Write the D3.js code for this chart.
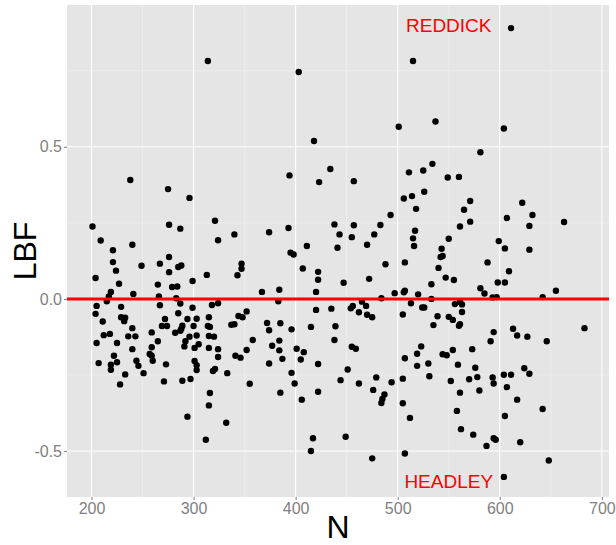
<!DOCTYPE html>
<html>
<head>
<meta charset="utf-8">
<script src="https://cdn.jsdelivr.net/npm/d3@7"></script>
<style>
body { margin: 0; background: #ffffff; }
text { font-family: "Liberation Sans", Arial, sans-serif; }
</style>
</head>
<body>
<svg></svg>
<script>
// sample size of each study
var nValues = [314,238,403,418,434,394,423,457,515,501,537,581,511,525,534,549,560,611,604,
  275,296,321,201,276,287,209,324,240,221,221,267,249,276,224,276,285,288,204,313,
  299,227,265,279,284,219,241,217,266,215,283,287,205,229,267,299,318,324,204,285,
  229,233,232,211,272,294,303,315,269,274,289,288,300,314,316,259,240,282,287,212,
  218,236,243,296,303,315,320,265,292,
  205,225,240,259,291,301,305,315,324,222,257,259,207,219,225,244,260,273,301,303,
  324,219,246,303,321,319,233,251,228,271,289,297,316,315,294,312,
  438,457,443,455,340,374,393,441,411,395,398,347,347,343,407,422,422,447,367,384,
  420,383,352,344,348,337,340,372,385,374,396,415,420,435,439,454,456,462,358,384,438,
  341,346,352,377,384,387,374,401,408,405,422,455,459,451,333,396,444,462,355,399,
  385,422,406,332,417,449,415,
  506,514,526,518,493,483,477,470,517,515,516,571,565,571,561,550,543,542,544,540,
  507,488,599,588,472,547,555,533,598,581,585,506,507,497,520,484,533,593,597,465,
  469,513,524,526,561,563,556,470,475,505,563,539,550,554,561,560,535,594,591,
  523,519,507,519,530,544,548,554,573,559,576,531,479,494,505,476,487,485,484,505,
  512,552,570,578,593,594,561,580,558,562,574,587,594,596,475,507,
  622,607,632,629,663,605,629,609,605,655,642,613,617,627,683,646,
  624,629,604,611,607,617,642,605,620,648,604];

// log Bayes factor for the same studies
var lbfValues = [0.782,0.391,0.746,0.519,0.427,0.406,0.384,0.387,0.782,0.566,0.583,0.482,0.416,0.422,0.444,0.399,0.401,0.890,0.560,
  0.361,0.332,0.257,0.238,0.244,0.231,0.192,0.193,0.178,0.160,0.121,0.116,0.109,0.138,0.093,0.088,0.105,0.110,0.069,0.079,
  0.059,0.050,0.047,0.039,0.041,0.023,0.016,0.008,0.008,-0.008,0.002,-0.015,-0.023,-0.026,-0.021,-0.029,-0.020,-0.014,-0.049,-0.047,
  -0.060,-0.062,-0.073,-0.074,-0.066,-0.066,-0.065,-0.060,-0.089,-0.089,-0.088,-0.098,-0.089,-0.089,-0.092,-0.110,-0.096,-0.111,-0.105,-0.119,
  -0.115,-0.123,-0.123,-0.124,-0.120,-0.122,-0.124,-0.139,-0.139,
  -0.145,-0.145,-0.165,-0.159,-0.156,-0.161,-0.149,-0.161,-0.165,-0.187,-0.181,-0.187,-0.211,-0.216,-0.208,-0.203,-0.203,-0.215,-0.204,-0.218,
  -0.191,-0.233,-0.220,-0.234,-0.230,-0.237,-0.248,-0.244,-0.281,-0.271,-0.269,-0.263,-0.309,-0.350,-0.387,-0.463,
  0.245,0.242,0.212,0.203,0.212,0.219,0.233,0.168,0.174,0.152,0.146,0.116,0.099,0.078,0.100,0.089,0.063,0.053,0.023,0.030,
  0.023,-0.008,-0.041,-0.056,-0.060,-0.085,-0.083,-0.079,-0.080,-0.103,-0.100,-0.092,-0.036,-0.032,-0.090,-0.031,-0.023,-0.044,-0.135,-0.137,-0.135,
  -0.187,-0.193,-0.168,-0.154,-0.169,-0.197,-0.212,-0.164,-0.175,-0.199,-0.214,-0.157,-0.164,-0.232,-0.244,-0.243,-0.267,-0.278,-0.279,-0.278,
  -0.308,-0.305,-0.331,-0.407,-0.458,-0.453,-0.500,
  0.330,0.338,0.352,0.296,0.276,0.243,0.212,0.178,0.224,0.199,0.174,0.322,0.293,0.254,0.238,0.198,0.165,0.138,0.141,0.102,
  0.120,0.114,0.190,0.120,0.066,0.070,0.062,0.048,0.054,0.035,0.018,0.022,0.027,0.019,0.015,0.002,0.000,0.005,0.006,-0.009,
  -0.023,-0.014,-0.028,-0.028,-0.010,-0.018,-0.017,-0.052,-0.060,-0.051,-0.043,-0.057,-0.059,-0.069,-0.083,-0.088,-0.086,-0.109,-0.139,
  -0.156,-0.180,-0.195,-0.220,-0.212,-0.182,-0.185,-0.168,-0.165,-0.216,-0.226,-0.254,-0.258,-0.274,-0.262,-0.299,-0.314,-0.329,-0.342,-0.343,
  -0.391,-0.270,-0.264,-0.257,-0.258,-0.278,-0.308,-0.301,-0.368,-0.428,-0.446,-0.483,-0.458,-0.463,-0.524,-0.508,
  0.316,0.266,0.276,0.240,0.253,0.166,0.162,0.091,0.054,0.027,0.006,-0.098,-0.120,-0.124,-0.096,-0.139,
  -0.228,-0.246,-0.249,-0.249,-0.290,-0.331,-0.362,-0.385,-0.471,-0.531,-0.585];

var xTicks = [200,300,400,500,600,700];
var xMinor = [250,350,450,550,650];
var yTicks = [-0.5,0,0.5];
var yTickLabels = ["-0.5","0.0","0.5"];
var yMinor = [-0.25,0.25,0.75];

// labelled studies
var labelNames = ["REDDICK","HEADLEY"];
var labelN = [550,550];
var labelLbf = [0.9,-0.6];

var screen = {width:616, height:545};
var margins = {top:5, bottom:48, left:67, right:7};
var width = screen.width - margins.left - margins.right;
var height = screen.height - margins.top - margins.bottom;

var svg = d3.select("svg")
            .attr("width",screen.width)
            .attr("height",screen.height);

var xScale = d3.scaleLinear()
               .domain([176,707])
               .range([0,width]);

var yScale = d3.scaleLinear()
               .domain([-0.651,0.966])
               .range([height,0]);

var plot = svg.append("g")
              .attr("transform","translate("+margins.left+","+margins.top+")");

plot.append("rect")
    .attr("width",width)
    .attr("height",height)
    .attr("fill","#e5e5e5");

// minor grid
plot.selectAll(".xminor").data(xMinor).enter().append("line")
    .attr("x1",function(d){return xScale(d);})
    .attr("x2",function(d){return xScale(d);})
    .attr("y1",0).attr("y2",height)
    .attr("stroke","#f2f2f2").attr("stroke-width",0.6);
plot.selectAll(".yminor").data(yMinor).enter().append("line")
    .attr("y1",function(d){return yScale(d);})
    .attr("y2",function(d){return yScale(d);})
    .attr("x1",0).attr("x2",width)
    .attr("stroke","#f2f2f2").attr("stroke-width",0.6);

// major grid
plot.selectAll(".xmajor").data(xTicks).enter().append("line")
    .attr("x1",function(d){return xScale(d);})
    .attr("x2",function(d){return xScale(d);})
    .attr("y1",0).attr("y2",height)
    .attr("stroke","#ffffff").attr("stroke-width",1.1);
plot.selectAll(".ymajor").data(yTicks).enter().append("line")
    .attr("y1",function(d){return yScale(d);})
    .attr("y2",function(d){return yScale(d);})
    .attr("x1",0).attr("x2",width)
    .attr("stroke","#ffffff").attr("stroke-width",1.1);

// points
var points = d3.zip(nValues,lbfValues);
plot.selectAll("circle")
    .data(points)
    .enter()
    .append("circle")
    .attr("cx",function(d){return xScale(d[0]);})
    .attr("cy",function(d){return yScale(d[1]);})
    .attr("r",3.2)
    .attr("fill","black");

// zero line
plot.append("line")
    .attr("x1",0).attr("x2",width)
    .attr("y1",yScale(0)).attr("y2",yScale(0))
    .attr("stroke","red").attr("stroke-width",3);

plot.selectAll(".lab")
    .data(labelNames)
    .enter()
    .append("text")
    .attr("x",function(d,i){return xScale(labelN[i]);})
    .attr("y",function(d,i){return yScale(labelLbf[i]);})
    .attr("dy","0.35em")
    .attr("text-anchor","middle")
    .attr("fill","red")
    .style("font-size","19px")
    .text(function(d){return d;});

// axes
var xAxis = d3.axisBottom(xScale)
              .tickValues(xTicks)
              .tickSize(3)
              .tickPadding(3);
var yAxis = d3.axisLeft(yScale)
              .tickValues(yTicks)
              .tickFormat(function(d,i){return yTickLabels[i];})
              .tickSize(3)
              .tickPadding(2);

var gx = plot.append("g")
             .attr("transform","translate(0,"+height+")")
             .call(xAxis);
var gy = plot.append("g").call(yAxis);

[gx,gy].forEach(function(g)
{
  g.select(".domain").remove();
  g.selectAll("line").attr("stroke","#7f7f7f");
  g.selectAll("text")
   .attr("fill","#7f7f7f")
   .style("font-size","16px")
   .style("font-family","Liberation Sans, Arial, sans-serif");
});

svg.append("text")
   .attr("x",margins.left+width/2)
   .attr("y",538)
   .attr("text-anchor","middle")
   .style("font-size","32px")
   .text("N");

svg.append("text")
   .attr("transform","translate(36,"+(margins.top+height/2)+") rotate(-90)")
   .attr("text-anchor","middle")
   .style("font-size","32px")
   .text("LBF");
</script>
</body>
</html>
